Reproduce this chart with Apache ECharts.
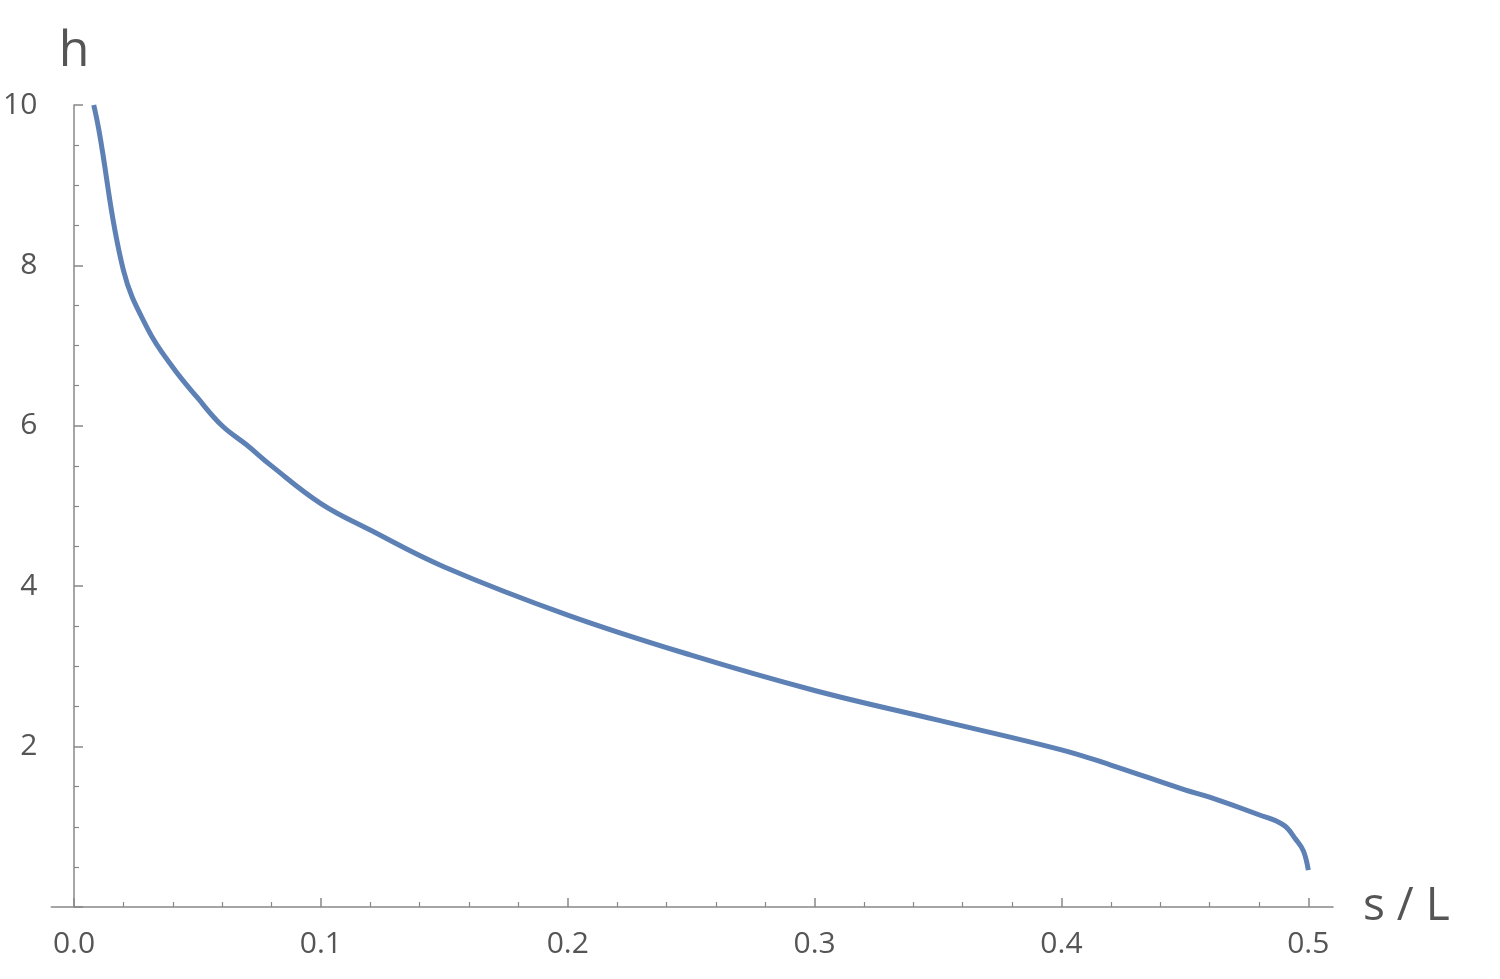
<!DOCTYPE html>
<html><head><meta charset="utf-8">
<script src="https://cdn.jsdelivr.net/npm/echarts@6/dist/echarts.min.js"></script>
<style>html,body{margin:0;padding:0;background:#fff}#c{width:1500px;height:979px}</style>
</head><body><div id="c"></div>
<script>
const sVals = [0.008,0.01,0.02,0.03,0.04,0.05,0.06,0.07,0.08,0.1,0.12,0.15,0.2,0.25,0.3,0.35,0.4,0.42,0.45,0.46,0.48,0.49,0.495,0.498,0.5];
const hVals = [10.0,9.7,7.94,7.2,6.73,6.35,6.0,5.76,5.5,5.03,4.7,4.24,3.64,3.14,2.70,2.33,1.96,1.77,1.46,1.37,1.15,1.02,0.84,0.7,0.46];
const xMajor = [0,0.1,0.2,0.3,0.4,0.5];
const xMinor = [0.02,0.04,0.06,0.08,0.12,0.14,0.16,0.18,0.22,0.24,0.26,0.28,0.32,0.34,0.36,0.38,0.42,0.44,0.46,0.48];
const yLabels = [2,4,6,8,10];
const gray='#555', axisCol='#888';
const font = "'Open Sans', 'DejaVu Sans', sans-serif";
const chart = echarts.init(document.getElementById('c'));
const baseX = {type:'value',min:-0.0092,max:0.51,splitLine:{show:false}};
chart.setOption({
  animation:false,
  grid:{left:35,right:167,top:105,bottom:72,containLabel:false},
  xAxis:[
    Object.assign({},baseX,{
      name:'s / L',nameLocation:'end',nameGap:30,
      nameTextStyle:{fontSize:46,color:gray,fontFamily:font,verticalAlign:'middle',padding:[22,0,0,0]},
      axisLine:{show:true,onZero:true,lineStyle:{color:axisCol,width:1.5}},
      axisTick:{show:true,inside:true,length:9,customValues:xMajor,lineStyle:{color:axisCol,width:1.5}},
      axisLabel:{show:true,customValues:xMajor,margin:22,fontSize:30,color:gray,fontFamily:font,formatter:v=>v.toFixed(1)}
    }),
    Object.assign({},baseX,{
      position:'bottom',axisLine:{show:false},
      axisTick:{show:true,inside:true,length:5,customValues:xMinor,lineStyle:{color:axisCol,width:1.2}},
      axisLabel:{show:false}
    })
  ],
  yAxis:{
    type:'value',min:0,max:10,interval:2,
    name:'h',nameLocation:'end',nameGap:28,
    nameTextStyle:{fontSize:50,color:gray,fontFamily:font,align:'center'},
    axisLine:{show:true,onZero:true,lineStyle:{color:axisCol,width:1.5}},
    axisTick:{show:true,inside:true,length:9,lineStyle:{color:axisCol,width:1.5}},
    minorTick:{show:true,splitNumber:4,length:5,lineStyle:{color:axisCol,width:1.2}},
    axisLabel:{margin:14,fontSize:30,color:gray,fontFamily:font,formatter:v=>v===0?'':String(v)},
    splitLine:{show:false}
  },
  series:[{type:'line',xAxisIndex:0,smooth:0.4,showSymbol:false,
    data:sVals.map((s,i)=>[s,hVals[i]]),
    lineStyle:{color:'#5E81B5',width:5}}]
});
</script></body></html>
